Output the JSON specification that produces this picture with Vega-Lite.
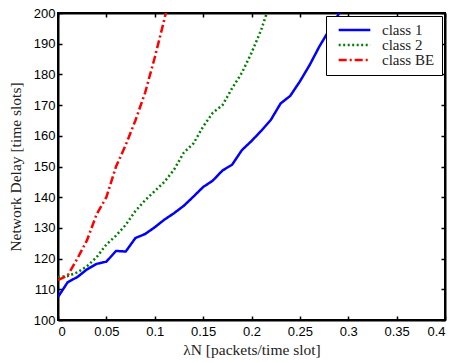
{
  "$schema": "https://vega.github.io/schema/vega-lite/v6.json",
  "width": 387,
  "height": 307,
  "autosize": {"type": "none"},
  "padding": {"left": 58, "top": 13, "right": 12, "bottom": 43},
  "background": "white",
  "config": {
    "view": {"stroke": "black", "strokeWidth": 2},
    "axis": {
      "grid": false,
      "domainColor": "black",
      "domainWidth": 2,
      "tickColor": "black",
      "tickSize": -4,
      "tickWidth": 1.5,
      "labelFont": "Liberation Sans",
      "labelFontSize": 13,
      "labelColor": "black",
      "titleFont": "Liberation Serif",
      "titleFontSize": 15.5,
      "titleFontWeight": "normal",
      "titleColor": "#222222"
    }
  },
  "data": {
    "values": [
      {"series": "class 1", "lambda": 0.0, "delay": 107.5},
      {"series": "class 1", "lambda": 0.01, "delay": 112.3},
      {"series": "class 1", "lambda": 0.02, "delay": 114.0},
      {"series": "class 1", "lambda": 0.03, "delay": 116.5},
      {"series": "class 1", "lambda": 0.04, "delay": 118.3},
      {"series": "class 1", "lambda": 0.05, "delay": 119.0},
      {"series": "class 1", "lambda": 0.06, "delay": 122.5},
      {"series": "class 1", "lambda": 0.07, "delay": 122.3},
      {"series": "class 1", "lambda": 0.08, "delay": 126.7},
      {"series": "class 1", "lambda": 0.09, "delay": 128.0},
      {"series": "class 1", "lambda": 0.10, "delay": 130.2},
      {"series": "class 1", "lambda": 0.11, "delay": 132.7},
      {"series": "class 1", "lambda": 0.12, "delay": 134.8},
      {"series": "class 1", "lambda": 0.13, "delay": 137.2},
      {"series": "class 1", "lambda": 0.14, "delay": 140.2},
      {"series": "class 1", "lambda": 0.15, "delay": 143.3},
      {"series": "class 1", "lambda": 0.16, "delay": 145.4},
      {"series": "class 1", "lambda": 0.17, "delay": 148.7},
      {"series": "class 1", "lambda": 0.18, "delay": 150.6},
      {"series": "class 1", "lambda": 0.19, "delay": 155.3},
      {"series": "class 1", "lambda": 0.20, "delay": 158.3},
      {"series": "class 1", "lambda": 0.21, "delay": 161.6},
      {"series": "class 1", "lambda": 0.22, "delay": 165.2},
      {"series": "class 1", "lambda": 0.23, "delay": 170.5},
      {"series": "class 1", "lambda": 0.24, "delay": 173.0},
      {"series": "class 1", "lambda": 0.25, "delay": 177.7},
      {"series": "class 1", "lambda": 0.26, "delay": 183.0},
      {"series": "class 1", "lambda": 0.27, "delay": 189.0},
      {"series": "class 1", "lambda": 0.28, "delay": 194.3},
      {"series": "class 1", "lambda": 0.29, "delay": 199.6},
      {"series": "class 1", "lambda": 0.30, "delay": 205.0},
      {"series": "class 2", "lambda": 0.0, "delay": 114.0},
      {"series": "class 2", "lambda": 0.01, "delay": 114.3},
      {"series": "class 2", "lambda": 0.02, "delay": 115.5},
      {"series": "class 2", "lambda": 0.03, "delay": 117.5},
      {"series": "class 2", "lambda": 0.04, "delay": 120.5},
      {"series": "class 2", "lambda": 0.05, "delay": 124.6},
      {"series": "class 2", "lambda": 0.06, "delay": 127.5},
      {"series": "class 2", "lambda": 0.07, "delay": 131.0},
      {"series": "class 2", "lambda": 0.08, "delay": 135.5},
      {"series": "class 2", "lambda": 0.09, "delay": 139.0},
      {"series": "class 2", "lambda": 0.10, "delay": 142.0},
      {"series": "class 2", "lambda": 0.11, "delay": 145.0},
      {"series": "class 2", "lambda": 0.12, "delay": 149.0},
      {"series": "class 2", "lambda": 0.13, "delay": 154.5},
      {"series": "class 2", "lambda": 0.14, "delay": 157.5},
      {"series": "class 2", "lambda": 0.15, "delay": 163.0},
      {"series": "class 2", "lambda": 0.16, "delay": 167.5},
      {"series": "class 2", "lambda": 0.17, "delay": 170.0},
      {"series": "class 2", "lambda": 0.18, "delay": 175.5},
      {"series": "class 2", "lambda": 0.19, "delay": 180.5},
      {"series": "class 2", "lambda": 0.20, "delay": 187.0},
      {"series": "class 2", "lambda": 0.21, "delay": 194.5},
      {"series": "class 2", "lambda": 0.22, "delay": 204.0},
      {"series": "class BE", "lambda": 0.0, "delay": 113.0},
      {"series": "class BE", "lambda": 0.01, "delay": 114.5},
      {"series": "class BE", "lambda": 0.02, "delay": 120.0},
      {"series": "class BE", "lambda": 0.03, "delay": 126.0},
      {"series": "class BE", "lambda": 0.04, "delay": 134.5},
      {"series": "class BE", "lambda": 0.05, "delay": 140.0},
      {"series": "class BE", "lambda": 0.06, "delay": 150.0},
      {"series": "class BE", "lambda": 0.07, "delay": 157.0},
      {"series": "class BE", "lambda": 0.08, "delay": 165.0},
      {"series": "class BE", "lambda": 0.09, "delay": 174.0},
      {"series": "class BE", "lambda": 0.10, "delay": 185.5},
      {"series": "class BE", "lambda": 0.11, "delay": 198.0},
      {"series": "class BE", "lambda": 0.12, "delay": 212.0}
    ]
  },
  "layer": [
    {
      "mark": {"type": "line", "clip": true, "strokeWidth": 2.5, "strokeCap": "butt"},
      "encoding": {
        "x": {
          "field": "lambda", "type": "quantitative",
          "scale": {"domain": [0, 0.4], "nice": false, "zero": false},
          "axis": {
            "title": "λN [packets/time slot]",
            "values": [0, 0.05, 0.1, 0.15, 0.2, 0.25, 0.3, 0.35, 0.4],
            "format": "~g",
            "labelPadding": 9,
            "titlePadding": 4
          }
        },
        "y": {
          "field": "delay", "type": "quantitative",
          "scale": {"domain": [100, 200], "nice": false, "zero": false},
          "axis": {
            "title": "Network Delay [time slots]",
            "values": [100, 110, 120, 130, 140, 150, 160, 170, 180, 190, 200],
            "labelPadding": 7,
            "titlePadding": 10
          }
        },
        "color": {
          "field": "series", "type": "nominal",
          "scale": {"domain": ["class 1", "class 2", "class BE"], "range": ["#0000ff", "#008000", "#ff0000"]},
          "legend": {
            "title": null,
            "orient": "top-right",
            "offset": 3,
            "fillColor": "white",
            "strokeColor": "black",
            "padding": 7,
            "symbolType": "stroke",
            "symbolSize": 1000,
            "symbolStrokeWidth": 2.5,
            "symbolOffset": 4,
            "clipHeight": 14,
            "labelFont": "Liberation Serif",
            "labelFontSize": 15,
            "labelColor": "#222222",
            "labelOffset": 10,
            "rowPadding": 0
          }
        },
        "strokeDash": {
          "field": "series", "type": "nominal",
          "scale": {"domain": ["class 1", "class 2", "class BE"], "range": [[1, 0], [2, 2.5], [8, 3, 2, 3]]},
          "legend": {
            "title": null,
            "orient": "top-right"
          }
        }
      }
    },
    {
      "mark": {"type": "line", "opacity": 0, "clip": true},
      "encoding": {
        "x": {
          "field": "lambda", "type": "quantitative",
          "scale": {"domain": [0, 0.4], "nice": false, "zero": false},
          "axis": {"orient": "top", "title": null, "labels": false, "values": [0, 0.05, 0.1, 0.15, 0.2, 0.25, 0.3, 0.35, 0.4]}
        },
        "y": {
          "field": "delay", "type": "quantitative",
          "scale": {"domain": [100, 200], "nice": false, "zero": false},
          "axis": {"orient": "right", "title": null, "labels": false, "values": [100, 110, 120, 130, 140, 150, 160, 170, 180, 190, 200]}
        },
        "detail": {"field": "series", "type": "nominal"}
      }
    }
  ],
  "resolve": {"axis": {"x": "independent", "y": "independent"}}
}
